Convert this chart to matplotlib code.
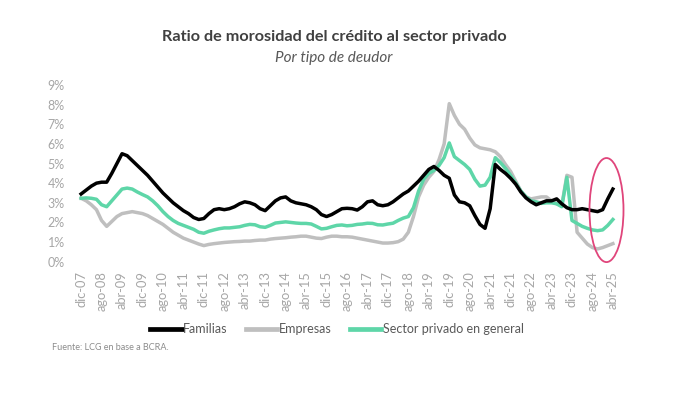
import numpy as np
import pandas as pd
import matplotlib
matplotlib.use("Agg")
import matplotlib.pyplot as plt
from matplotlib.patches import Ellipse
from matplotlib.lines import Line2D

# ---- data (bimonthly readings, dic-07 .. abr-25) ----
fechas = pd.date_range("2007-12-01", "2025-04-01", freq="2MS")
meses_es = ["ene", "feb", "mar", "abr", "may", "jun", "jul", "ago", "sep", "oct", "nov", "dic"]

familias = [
    3.45, 3.65, 3.85, 4.00, 4.05, 4.05, 4.50, 5.00, 5.50, 5.40, 5.15, 4.90, 4.65, 4.40, 4.10, 3.80, 3.50, 3.25,
    3.00, 2.80, 2.60, 2.45, 2.25, 2.15, 2.20, 2.45, 2.65, 2.70, 2.65, 2.70, 2.80, 2.95, 3.05, 3.00, 2.90, 2.70,
    2.60, 2.85, 3.10, 3.25, 3.30, 3.10, 3.00, 2.95, 2.90, 2.80, 2.65, 2.40, 2.30, 2.40, 2.55, 2.70, 2.72, 2.70,
    2.63, 2.80, 3.05, 3.10, 2.90, 2.85, 2.90, 3.05, 3.25, 3.45, 3.60, 3.85, 4.10, 4.40, 4.70, 4.85, 4.65, 4.40,
    4.25, 3.40, 3.05, 3.00, 2.85, 2.35, 1.90, 1.70, 2.70, 4.95, 4.70, 4.50, 4.25, 3.95, 3.55, 3.25, 3.05, 2.90,
    3.00, 3.10, 3.10, 3.20, 2.95, 2.75, 2.65, 2.65, 2.70, 2.65, 2.60, 2.55, 2.65, 3.20, 3.70,
]
empresas = [
    3.23, 3.10, 2.90, 2.65, 2.10, 1.80, 2.05, 2.30, 2.45, 2.50, 2.55, 2.50, 2.45, 2.35, 2.20, 2.05, 1.90, 1.70,
    1.50, 1.35, 1.20, 1.10, 1.00, 0.90, 0.82, 0.88, 0.92, 0.95, 0.98, 1.00, 1.02, 1.03, 1.05, 1.05, 1.08, 1.10,
    1.10, 1.15, 1.18, 1.20, 1.22, 1.25, 1.27, 1.30, 1.30, 1.25, 1.20, 1.18, 1.25, 1.30, 1.30, 1.27, 1.27, 1.25,
    1.20, 1.15, 1.10, 1.05, 1.00, 0.95, 0.95, 0.97, 1.02, 1.15, 1.50, 2.30, 3.30, 3.90, 4.30, 4.60, 5.20, 6.00,
    8.05, 7.45, 7.00, 6.75, 6.30, 5.95, 5.80, 5.75, 5.70, 5.60, 5.35, 4.95, 4.60, 4.10, 3.60, 3.30, 3.20, 3.25,
    3.30, 3.30, 3.10, 2.95, 2.85, 4.40, 4.30, 1.50, 1.20, 0.90, 0.72, 0.65, 0.72, 0.82, 0.92,
]
sector_privado = [
    3.23, 3.25, 3.23, 3.18, 2.90, 2.80, 3.10, 3.40, 3.70, 3.75, 3.70, 3.55, 3.42, 3.30, 3.10, 2.85, 2.55, 2.30,
    2.10, 1.95, 1.85, 1.75, 1.65, 1.50, 1.45, 1.55, 1.62, 1.68, 1.72, 1.72, 1.75, 1.78, 1.85, 1.90, 1.88, 1.78,
    1.75, 1.85, 1.97, 2.00, 2.03, 2.00, 1.97, 1.95, 1.95, 1.92, 1.80, 1.67, 1.70, 1.78, 1.85, 1.87, 1.83, 1.85,
    1.90, 1.92, 1.96, 1.95, 1.88, 1.87, 1.92, 1.96, 2.10, 2.22, 2.30, 2.75, 3.60, 4.20, 4.50, 4.65, 4.90, 5.30,
    6.05, 5.35, 5.15, 4.95, 4.70, 4.20, 3.85, 3.90, 4.30, 5.30, 5.05, 4.75, 4.40, 4.00, 3.60, 3.30, 3.10, 3.05,
    2.97, 3.00, 3.00, 2.95, 2.80, 4.30, 2.10, 1.95, 1.80, 1.70, 1.62, 1.58, 1.62, 1.85, 2.15,
]
series_nombres = ["Familias", "Empresas", "Sector privado en general"]
yticks = list(range(0, 10))

# ---- styling ----
colores = ["#000000", "#BFBFBF", "#5ED6A8"]
gris_txt = "#A6A6A6"
plt.rcParams["font.family"] = ["Lato", "DejaVu Sans"]

W, H = 674, 395
fig = plt.figure(figsize=(W / 100, H / 100), dpi=100)
ax_left, ax_right, ax_top, ax_bottom = 76.0, 618.0, 85.0, 261.7
ax = fig.add_axes([ax_left / W, 1 - ax_bottom / H, (ax_right - ax_left) / W, (ax_bottom - ax_top) / H])

# month offsets from the first date
meses = np.array([(f.year - fechas[0].year) * 12 + (f.month - fechas[0].month) for f in fechas])

orden = [1, 2, 0]  # gray first, green, black on top
datos = [familias, empresas, sector_privado]
for i in orden:
    ax.plot(meses, datos[i], color=colores[i], lw=2.5, solid_joinstyle="round", zorder=3 + (i == 0))

# tick labels every 8 months
tick_m = np.arange(0, meses[-1] + 1, 8)
tick_lbl = []
for m in tick_m:
    d = fechas[0] + pd.DateOffset(months=int(m))
    tick_lbl.append(f"{meses_es[d.month - 1]}-{d.year % 100:02d}")
ax.set_xticks(tick_m)
ax.set_xticklabels(tick_lbl, rotation=90, fontsize=9.3, color=gris_txt)
ax.set_yticks(yticks)
ax.set_yticklabels([f"{v}%" for v in yticks], fontsize=9, color=gris_txt)
ax.tick_params(axis="both", length=0)
ax.tick_params(axis="x", pad=7)
ax.tick_params(axis="y", pad=8)
ax.set_xlim(-2, meses[-1] + 2)
ax.set_ylim(0, 9)
for s in ax.spines.values():
    s.set_visible(False)

# highlight ellipse (annotation)
ell = Ellipse((meses[-1] - 2.5, 2.63), width=13.3, height=5.3, fill=False,
              edgecolor="#E0457B", lw=1.3, zorder=5, clip_on=False)
ax.add_patch(ell)

# titles
fig.text(334 / W, 1 - 37 / H, "Ratio de morosidad del crédito al sector privado",
         ha="center", va="center", fontsize=11.7, fontweight="bold", color="#404040")
fig.text(334 / W, 1 - 58 / H, "Por tipo de deudor", ha="center", va="center",
         fontsize=11, style="italic", color="#595959")

# legend
handles = [Line2D([0], [0], color=colores[i], lw=3.4) for i in range(3)]
leg = fig.legend(handles, series_nombres, loc="center", bbox_to_anchor=(337 / W, 1 - 329 / H),
                 ncol=3, frameon=False, fontsize=9, handlelength=2.5, handletextpad=0.1,
                 columnspacing=1.5, labelcolor="#595959")

fig.text(52 / W, 1 - 347 / H, "Fuente: LCG en base a BCRA.", ha="left", va="center",
         fontsize=6.5, color="#8C8C8C")

fig.savefig("out.png", dpi=100)
